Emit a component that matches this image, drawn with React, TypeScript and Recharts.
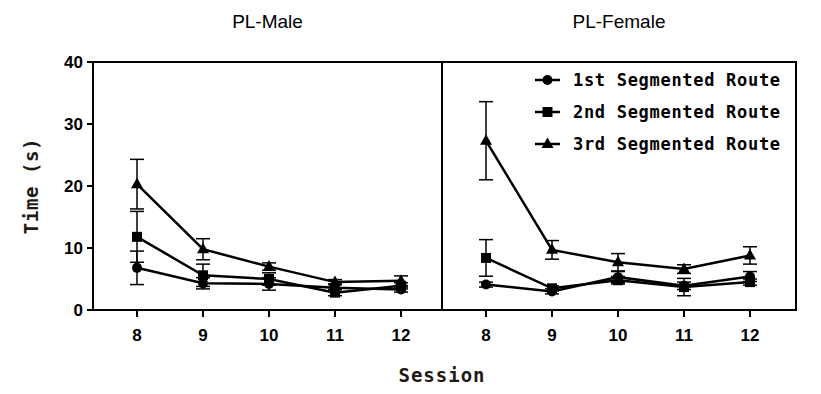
import { LineChart, Line, XAxis, YAxis, ErrorBar } from 'recharts';

const sessions = [8, 9, 10, 11, 12];
const yTicks = [0, 10, 20, 30, 40];
const seriesNames = ['1st Segmented Route', '2nd Segmented Route', '3rd Segmented Route'];
const panelTitles = ['PL-Male', 'PL-Female'];

// PL-Male (mean, error)
const maleFirst = [6.8, 4.3, 4.2, 3.6, 3.3];
const maleFirstErr = [2.7, 0.9, 1.0, 0.6, 0.4];
const maleSecond = [11.8, 5.6, 5.0, 2.8, 3.9];
const maleSecondErr = [4.1, 1.8, 1.0, 0.5, 0.5];
const maleThird = [20.3, 9.8, 7.0, 4.5, 4.7];
const maleThirdErr = [4.0, 1.7, 0.6, 0.4, 0.8];

// PL-Female (mean, error)
const femaleFirst = [4.1, 3.0, 5.3, 3.9, 5.4];
const femaleFirstErr = [0.4, 0.4, 0.9, 0.6, 0.8];
const femaleSecond = [8.4, 3.5, 4.8, 3.7, 4.5];
const femaleSecondErr = [2.95, 0.4, 0.6, 1.4, 0.5];
const femaleThird = [27.3, 9.7, 7.7, 6.6, 8.8];
const femaleThirdErr = [6.3, 1.5, 1.4, 0.7, 1.4];

const buildRows = (
  a: number[], ae: number[], b: number[], be: number[], c: number[], ce: number[]
) =>
  sessions.map((s, i) => ({
    session: s,
    first: a[i], firstErr: ae[i],
    second: b[i], secondErr: be[i],
    third: c[i], thirdErr: ce[i],
  }));

const maleRows = buildRows(maleFirst, maleFirstErr, maleSecond, maleSecondErr, maleThird, maleThirdErr);
const femaleRows = buildRows(femaleFirst, femaleFirstErr, femaleSecond, femaleSecondErr, femaleThird, femaleThirdErr);

const tickFont = { fontFamily: 'Liberation Sans, Arial, sans-serif', fontWeight: 700, fontSize: 17, fill: '#000' };
const monoFont = "'DejaVu Sans Mono', monospace";

const circleDot = (p: any) =>
  <circle key={`c-${p.index}`} cx={p.cx} cy={p.cy} r={5} fill="#000" />;
const squareDot = (p: any) =>
  <rect key={`s-${p.index}`} x={p.cx - 5} y={p.cy - 5} width={10} height={10} fill="#000" />;
const triangleDot = (p: any) =>
  <polygon key={`t-${p.index}`} points={`${p.cx},${p.cy - 6.5} ${p.cx - 6},${p.cy + 4} ${p.cx + 6},${p.cy + 4}`} fill="#000" />;

const dots = [circleDot, squareDot, triangleDot];
const keys = ['first', 'second', 'third'];

const renderLines = () =>
  keys.map((k, i) => (
    <Line
      key={k}
      dataKey={k}
      name={seriesNames[i]}
      stroke="#000"
      strokeWidth={2.5}
      dot={dots[i]}
      activeDot={false}
      isAnimationActive={false}
    >
      <ErrorBar dataKey={`${k}Err`} width={7} stroke="#000" strokeWidth={1.5} direction="y" />
    </Line>
  ));

const axisLine = { stroke: '#000', strokeWidth: 2 };

export default function App() {
  return (
    <div style={{ position: 'absolute', left: 0, top: 0, width: 821, height: 394, background: '#fff' }}>
      <div style={{ position: 'absolute', left: 0, top: 0 }}>
        <LineChart width={450} height={394} data={maleRows} margin={{ top: 62, right: 8, bottom: 44, left: 33 }}>
          <XAxis
            dataKey="session"
            type="number"
            domain={[8, 12]}
            ticks={sessions}
            padding={{ left: 44, right: 41 }}
            height={40}
            tick={tickFont}
            tickSize={7}
            tickMargin={12}
            axisLine={axisLine}
            tickLine={axisLine}
          />
          <YAxis
            domain={[0, 40]}
            ticks={yTicks}
            width={60}
            tick={tickFont}
            tickSize={6}
            tickMargin={4}
            axisLine={axisLine}
            tickLine={axisLine}
            label={{
              value: 'Time (s)',
              angle: -90,
              position: 'center',
              dx: -32,
              style: { fontFamily: monoFont, fontWeight: 700, fontSize: 19, letterSpacing: 0.6, fill: '#1e1a14' },
            }}
          />
          {renderLines()}
        </LineChart>
      </div>
      <div style={{ position: 'absolute', left: 442, top: 0 }}>
        <LineChart width={379} height={394} data={femaleRows} margin={{ top: 62, right: 25, bottom: 44, left: 0 }}>
          <XAxis
            dataKey="session"
            type="number"
            domain={[8, 12]}
            ticks={sessions}
            padding={{ left: 44, right: 46 }}
            height={40}
            tick={tickFont}
            tickSize={7}
            tickMargin={12}
            axisLine={axisLine}
            tickLine={axisLine}
          />
          <YAxis hide domain={[0, 40]} ticks={yTicks} />
          {renderLines()}
        </LineChart>
      </div>

      {/* frame + divider */}
      <div style={{ position: 'absolute', left: 92, top: 61, width: 705, height: 250, border: '2px solid #000', boxSizing: 'border-box', pointerEvents: 'none' }} />
      <div style={{ position: 'absolute', left: 441, top: 61, width: 2, height: 250, background: '#000' }} />

      {/* panel titles */}
      {panelTitles.map((t, i) => (
        <div
          key={t}
          style={{
            position: 'absolute',
            left: i === 0 ? 93 : 442,
            width: i === 0 ? 349 : 354,
            top: 12,
            lineHeight: '19px',
            textAlign: 'center',
            fontFamily: 'Liberation Sans, Arial, sans-serif',
            fontSize: 19,
            color: '#000',
          }}
        >
          {t}
        </div>
      ))}

      {/* x axis title */}
      <div style={{ position: 'absolute', left: 342, width: 200, top: 364, textAlign: 'center', fontFamily: monoFont, fontWeight: 700, fontSize: 19, letterSpacing: 1, color: '#1e1a14' }}>
        Session
      </div>

      {/* legend */}
      <div style={{ position: 'absolute', left: 533, top: 64 }}>
        {seriesNames.map((n, i) => (
          <div key={n} style={{ display: 'flex', alignItems: 'center', height: 32 }}>
            <svg width={30} height={16} style={{ marginRight: 10 }}>
              <line x1={2} y1={8} x2={27} y2={8} stroke="#000" strokeWidth={2.5} />
              {dots[i]({ cx: 14.5, cy: 8, index: i })}
            </svg>
            <span style={{ fontFamily: monoFont, fontWeight: 700, fontSize: 17, letterSpacing: 0.7, color: '#000' }}>{n}</span>
          </div>
        ))}
      </div>
    </div>
  );
}
